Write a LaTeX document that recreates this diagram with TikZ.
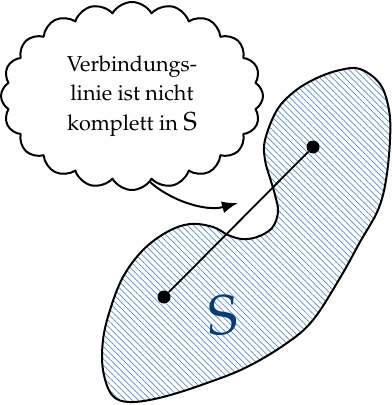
\documentclass[tikz,border=0pt]{standalone}
\usepackage[T1]{fontenc}
\usepackage{mathpazo}
\usetikzlibrary{shapes.symbols,arrows.meta,patterns.meta}
\definecolor{hatchblue}{RGB}{90,140,195}
\definecolor{sblue}{RGB}{10,60,115}
\tikzset{
  outline/.style={line width=1pt},
  dotnode/.style={circle, fill=black, inner sep=0pt, minimum size=6.5pt},
  thought/.style={cloud, draw, line width=1pt, cloud puffs=20, cloud puff arc=120,
    cloud ignores aspect, minimum width=131pt, minimum height=94pt,
    align=center, inner sep=0pt, font=\fontsize{10.8}{14.7}\selectfont},
}
\begin{document}
\begin{tikzpicture}[x=0.5pt,y=-0.5pt,line join=round]
\useasboundingbox (0,0) rectangle (391,405);
% set S
\draw[outline, pattern={Lines[angle=-45,distance=2.2pt,line width=0.35pt]}, pattern color=hatchblue]
  plot[smooth cycle, tension=0.6] coordinates {
  (360,69) (380,84) (389,110) (390,140) (386,180) (378,210) (360,242) (340,278)
  (313,320) (287,343) (247,367) (207,383) (163,397) (130,402) (112,395) (103,370)
  (103,340) (110,310) (123,277) (143,250) (167,232) (190,224) (213,227) (228,235)
  (242,239) (257,237) (272,228) (278,212) (275,195) (270,178) (265,160) (265,140)
  (277,110) (295,91) (317,78) (340,70)};
% points and segment
\node[dotnode] (p1) at (313,147) {};
\node[dotnode] (p2) at (164,297) {};
\draw[line width=0.9pt] (p1) -- (p2);
\node[text=sblue, font=\fontsize{28}{28}\selectfont] (s) at (223,316) {S};
% thought cloud
\node[thought] (cl) at (132,96) {Verbindungs-\\linie ist nicht\\komplett in {\fontsize{13}{14.7}\selectfont S}};
\coordinate (tip) at (238,203);
\draw[line width=1pt, -{Latex[length=8pt,width=6pt]}]
  (cl.-78) .. controls (170,200) and (205,212) .. (tip);
\end{tikzpicture}
\end{document}
